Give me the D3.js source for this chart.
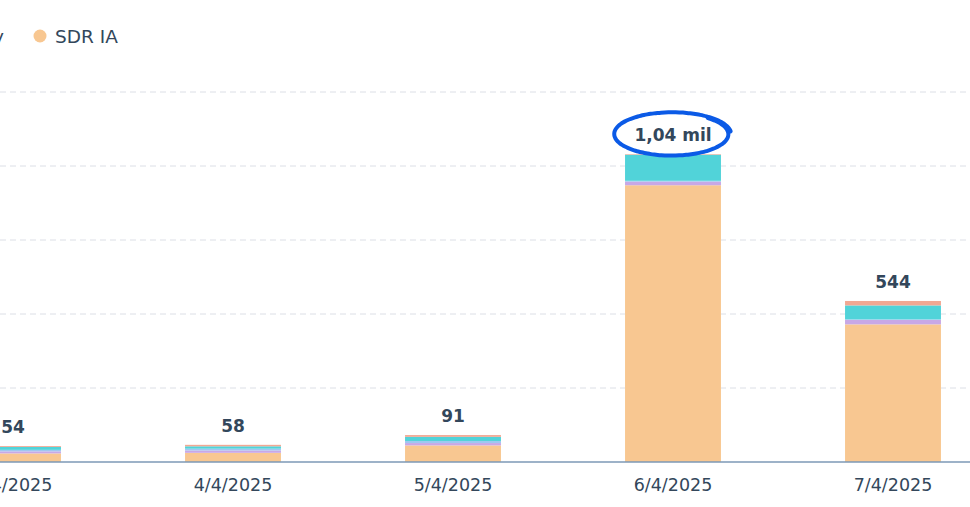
<!DOCTYPE html>
<html>
<head>
<meta charset="utf-8">
<script src="https://cdn.jsdelivr.net/npm/d3@7/dist/d3.min.js"></script>
<style>
  body { margin: 0; background: #fff; }
  svg { display: block; font-family: "DejaVu Sans", "Noto Sans", sans-serif; }
</style>
</head>
<body>
<div id="chart"></div>
<script>
// data
const dates = ["3/4/2025", "4/4/2025", "5/4/2025", "6/4/2025", "7/4/2025"];
const seriesNames = ["SDR IA", "Parceiros", "Indicação", "Inbound", "Outbound"];
const sdrIa     = [29, 31, 56, 935, 465];
const parceiros = [7, 8, 8, 12, 15];
const indicacao = [5, 6, 7, 3, 2];
const inbound   = [10, 8, 14, 88, 47];
const outbound  = [3, 5, 6, 2, 15];
const yTicks = [250, 500, 750, 1000, 1250];

const colors = ["#f8c791", "#c8a8e6", "#9fc7f0", "#51d3d9", "#f2a893"];

const width = 970, height = 507;
const ink = "#33475b";

const rows = dates.map((d, i) => ({
    date: d,
    "SDR IA": sdrIa[i],
    "Parceiros": parceiros[i],
    "Indicação": indicacao[i],
    "Inbound": inbound[i],
    "Outbound": outbound[i]
}));

const stack = d3.stack().keys(seriesNames);
const layers = stack(rows);

const svg = d3.select("#chart").append("svg")
    .attr("width", width)
    .attr("height", height);

const x = d3.scaleBand()
    .domain(dates)
    .range([-97, 1003])
    .paddingInner(0.564)
    .paddingOuter(0.282);

const y = d3.scaleLinear()
    .domain([0, 1250])
    .range([462, 92]);

// grid
svg.append("g")
    .selectAll("line")
    .data(yTicks)
    .enter().append("line")
    .attr("x1", 0)
    .attr("x2", width)
    .attr("y1", d => y(d))
    .attr("y2", d => y(d))
    .attr("stroke", "#dcdfe6")
    .attr("stroke-width", 1)
    .attr("stroke-dasharray", "6,4");

// bars
svg.append("g")
    .selectAll("g")
    .data(layers)
    .enter().append("g")
    .attr("fill", (d, i) => colors[i])
    .selectAll("rect")
    .data(d => d)
    .enter().append("rect")
    .attr("x", d => x(d.data.date))
    .attr("width", x.bandwidth())
    .attr("y", d => y(d[1]))
    .attr("height", d => y(d[0]) - y(d[1]));

// baseline + x axis
const xAxis = svg.append("g")
    .attr("transform", `translate(0, ${y(0)})`)
    .call(d3.axisBottom(x).tickSize(0).tickPadding(17));
xAxis.select(".domain")
    .attr("d", `M0,0H${width}`)
    .attr("stroke", "#7c98b6")
    .attr("stroke-width", 1.5);
xAxis.selectAll("text")
    .attr("fill", ink)
    .style("font-size", "17.5px")
    .style("font-family", "'DejaVu Sans', sans-serif");

// totals
const totals = rows.map(r => d3.sum(seriesNames, k => r[k]));
const fmt = v => v >= 1000
    ? d3.format(".2f")(v / 1000).replace(".", ",") + " mil"
    : String(v);

svg.append("g")
    .selectAll("text")
    .data(dates)
    .enter().append("text")
    .attr("x", d => x(d) + x.bandwidth() / 2)
    .attr("y", (d, i) => y(totals[i]) - 13)
    .attr("text-anchor", "middle")
    .attr("fill", ink)
    .style("font-size", "17px")
    .style("font-weight", "bold")
    .text((d, i) => fmt(totals[i]));

// hand drawn ring round the peak
const peak = d3.maxIndex(totals);
const cx = x(dates[peak]) + x.bandwidth() / 2 - 1;
const cy = y(totals[peak]) - 20;
const ring = d3.range(0, 1.12, 0.01).map(t => {
    const a = -Math.PI * 0.28 + t * Math.PI * 2;
    const grow = 1 + 0.05 * t;
    return [cx + Math.cos(a) * 56 * grow, cy + Math.sin(a) * 21 * grow];
});
svg.append("path")
    .attr("d", d3.line().curve(d3.curveBasis)(ring))
    .attr("fill", "none")
    .attr("stroke", "#0b5ae6")
    .attr("stroke-width", 4)
    .attr("stroke-linecap", "round");

// legend (only its tail is in view)
const legendNames = ["Inbound Journey", "SDR IA"];
const legend = svg.append("g").attr("transform", "translate(0, 36)");
legend.append("text")
    .attr("x", 4)
    .attr("y", 6.5)
    .attr("text-anchor", "end")
    .attr("fill", ink)
    .style("font-size", "18.5px")
    .text(legendNames[0]);
legend.append("circle")
    .attr("cx", 40)
    .attr("cy", 0)
    .attr("r", 6.5)
    .attr("fill", colors[0]);
legend.append("text")
    .attr("x", 55)
    .attr("y", 6.5)
    .attr("fill", ink)
    .style("font-size", "18.5px")
    .text(legendNames[1]);
</script>
</body>
</html>
